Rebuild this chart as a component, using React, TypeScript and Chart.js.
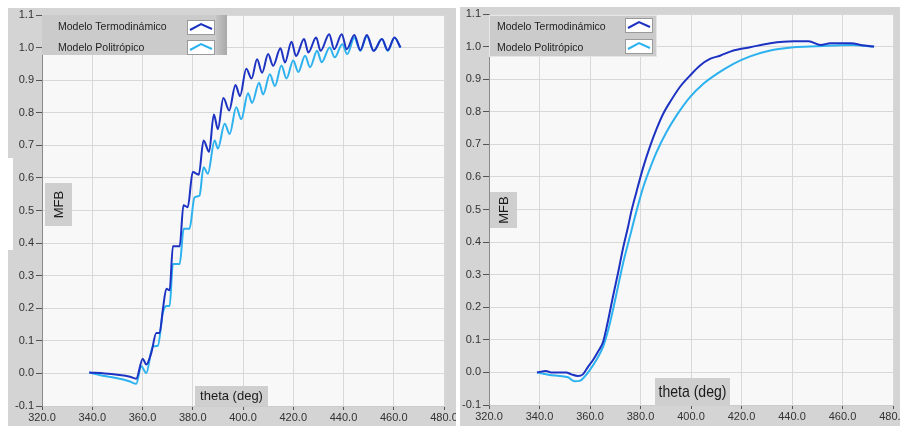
import React, { useEffect, useRef } from "react";
import { Chart, registerables } from "chart.js";

Chart.register(...registerables);

// ---------- data ----------
const X_TICKS = [320, 340, 360, 380, 400, 420, 440, 460, 480];
const Y_TICKS = [-0.1, 0.0, 0.1, 0.2, 0.3, 0.4, 0.5, 0.6, 0.7, 0.8, 0.9, 1.0, 1.1];
const SERIES_NAMES = ["Modelo Termodinámico", "Modelo Politrópico"];
const X_TITLE = "theta (deg)";
const Y_TITLE = "MFB";

// Left chart (oscillating)
const leftThetaTermo = [338.8, 345, 350, 355, 357.5, 360.1, 361.5, 363.5, 365.5, 366.8, 368.1, 369.5, 370.8, 372.1, 374.8, 376.3, 378, 380, 382.4, 384.3, 386.5, 388.4, 390, 392.2, 394.5, 397, 398.8, 401.3, 403.4, 405.6, 407.6, 410, 412, 414.9, 416.7, 419.3, 421.1, 424.3, 426, 429.1, 430.9, 434.3, 436.3, 439.3, 441.3, 444.3, 446.7, 449.3, 452, 455.3, 457.6, 460.3, 462.7];
const leftMfbTermo = [0.003, 0.0, -0.004, -0.01, -0.016, 0.045, 0.027, 0.063, 0.124, 0.124, 0.196, 0.26, 0.255, 0.39, 0.39, 0.516, 0.51, 0.618, 0.61, 0.715, 0.68, 0.795, 0.75, 0.845, 0.807, 0.885, 0.851, 0.935, 0.905, 0.964, 0.923, 0.98, 0.944, 0.998, 0.954, 1.018, 0.974, 1.026, 0.985, 1.031, 0.99, 1.041, 0.995, 1.041, 0.995, 1.039, 0.992, 1.039, 0.99, 1.026, 0.992, 1.031, 1.0];
const leftThetaPoli = [338.8, 345, 350, 355, 357.5, 359.5, 361.5, 364.1, 366.1, 368.1, 369.5, 370.8, 372.1, 374.8, 376.4, 378.7, 380.7, 382.7, 384.3, 386, 388.7, 390, 392.7, 394.7, 397.3, 399.3, 402, 403.6, 406.4, 408, 410.7, 412.7, 415.3, 417.3, 420, 422, 424.7, 426.7, 429.5, 431.3, 434.5, 436.5, 439.5, 441.5, 444.3, 446.7, 449.3, 452, 455.3, 457.6, 460.3, 462.7];
const leftMfbPoli = [0.003, -0.008, -0.015, -0.025, -0.032, 0.022, 0.001, 0.083, 0.085, 0.186, 0.207, 0.207, 0.336, 0.336, 0.444, 0.444, 0.54, 0.546, 0.633, 0.613, 0.715, 0.69, 0.766, 0.735, 0.817, 0.78, 0.86, 0.83, 0.892, 0.856, 0.918, 0.882, 0.945, 0.905, 0.96, 0.925, 0.975, 0.94, 0.99, 0.955, 1.0, 0.97, 1.01, 0.98, 1.03, 0.99, 1.035, 0.99, 1.026, 0.99, 1.03, 1.0];

// Right chart (smooth)
const rightThetaTermo = [339, 342.6, 344.6, 350.6, 352.6, 355.2, 357.2, 359.2, 361.2, 363.2, 365.2, 367.2, 369.1, 371.1, 373.1, 375.1, 376.4, 378.4, 381.1, 383.7, 386.4, 389, 391.7, 395.6, 399.6, 403.6, 407.5, 411.5, 416.8, 423.4, 431.4, 440.7, 446.6, 451.3, 455.2, 463.2, 468.5, 472.5];
const rightMfbTermo = [0.0, 0.004, 0.0, 0.0, -0.006, -0.011, -0.006, 0.017, 0.038, 0.064, 0.094, 0.161, 0.233, 0.305, 0.382, 0.448, 0.495, 0.554, 0.63, 0.692, 0.748, 0.794, 0.83, 0.876, 0.911, 0.942, 0.962, 0.972, 0.988, 0.998, 1.01, 1.016, 1.016, 1.005, 1.01, 1.01, 1.003, 1.0];
const rightThetaPoli = [339, 344, 348, 351.3, 353.9, 355.9, 357.9, 359.9, 362.5, 365.2, 367.2, 369.1, 371.1, 373.1, 375.8, 378.4, 381.1, 383.7, 386.4, 390.3, 394.3, 399.6, 404.9, 410.2, 416.8, 423.4, 431.4, 440.7, 450, 456.6, 463.2, 472.5];
const rightMfbPoli = [0.0, -0.008, -0.011, -0.015, -0.027, -0.026, -0.013, 0.007, 0.038, 0.079, 0.13, 0.192, 0.264, 0.335, 0.417, 0.495, 0.569, 0.625, 0.677, 0.738, 0.789, 0.845, 0.886, 0.916, 0.947, 0.97, 0.988, 0.998, 1.001, 1.003, 1.005, 1.0];

// ---------- styles ----------
const COLOR_TERMO = "#1c32c2";
const COLOR_POLI = "#2db2ef";
const PANEL = "#d4d4d4";
const PLOT_BG = "#f8f8f8";
const GRID = "#d8d8d8";
const FONT = "'Liberation Sans', Arial, sans-serif";

type Box = [number, number, number, number];
type Decor = {
  area: { left: number; top: number; right: number; bottom: number };
  legend: { box: Box; textX: number; rowY: number[]; glyphX: number; glyphW: number; glyphBoxes: [number, number][]; shade: boolean };
  mfb: Box;
  theta: Box;
  thetaFont: number;
  thetaMaxW: number;
  strip?: Box;
};

function zip(xs: number[], ys: number[]) {
  return xs.map((x, i) => ({ x, y: ys[i] }));
}

function makeDecor(d: Decor) {
  return {
    id: "decor",
    beforeDraw(chart: any) {
      const { ctx, width, height, chartArea: a } = chart;
      ctx.save();
      ctx.fillStyle = PANEL;
      ctx.fillRect(0, 0, width, height);
      if (d.strip) {
        ctx.fillStyle = "#ffffff";
        ctx.fillRect(...d.strip);
      }
      ctx.fillStyle = PLOT_BG;
      ctx.fillRect(a.left, a.top, a.right - a.left, a.bottom - a.top);
      ctx.restore();
    },
    afterDraw(chart: any) {
      const ctx = chart.ctx as CanvasRenderingContext2D;
      ctx.save();
      // legend
      const L = d.legend;
      ctx.fillStyle = "#cbcbcb";
      ctx.fillRect(...L.box);
      if (L.shade) {
        const [bx, by, bw, bh] = L.box;
        const g = ctx.createLinearGradient(bx + bw - 11, 0, bx + bw, 0);
        g.addColorStop(0, "#c4c4c4");
        g.addColorStop(1, "#a9a9a9");
        ctx.fillStyle = g;
        ctx.fillRect(bx + bw - 11, by, 11, bh);
      } else {
        ctx.strokeStyle = "#e6e6e6";
        ctx.lineWidth = 1;
        ctx.strokeRect(L.box[0] + 0.5, L.box[1] + 0.5, L.box[2] - 1, L.box[3] - 1);
      }
      chart.data.datasets.forEach((ds: any, i: number) => {
        ctx.fillStyle = "#1e1e1e";
        ctx.font = `10.5px ${FONT}`;
        ctx.textAlign = "left";
        ctx.textBaseline = "middle";
        ctx.fillText(ds.label, L.textX, L.rowY[i]);
        const [gy, gh] = L.glyphBoxes[i];
        ctx.fillStyle = "#ffffff";
        ctx.fillRect(L.glyphX, gy, L.glyphW, gh);
        ctx.strokeStyle = "#9a9a9a";
        ctx.lineWidth = 1;
        ctx.strokeRect(L.glyphX + 0.5, gy + 0.5, L.glyphW - 1, gh - 1);
        ctx.strokeStyle = ds.borderColor;
        ctx.lineWidth = 2;
        ctx.beginPath();
        ctx.moveTo(L.glyphX + 3, gy + gh - 5);
        ctx.lineTo(L.glyphX + L.glyphW / 2, gy + 4);
        ctx.lineTo(L.glyphX + L.glyphW - 3, gy + gh - 6);
        ctx.stroke();
      });
      // y title box
      ctx.fillStyle = "#cfcfcf";
      ctx.fillRect(...d.mfb);
      ctx.save();
      ctx.translate(d.mfb[0] + d.mfb[2] / 2, d.mfb[1] + d.mfb[3] / 2);
      ctx.rotate(-Math.PI / 2);
      ctx.fillStyle = "#1a1a1a";
      ctx.font = `13px ${FONT}`;
      ctx.textAlign = "center";
      ctx.textBaseline = "middle";
      ctx.fillText(Y_TITLE, 0, 1);
      ctx.restore();
      // x title box
      ctx.fillStyle = "#cfcfcf";
      ctx.fillRect(...d.theta);
      ctx.fillStyle = "#1a1a1a";
      ctx.font = `${d.thetaFont}px ${FONT}`;
      ctx.textAlign = "center";
      ctx.textBaseline = "middle";
      ctx.fillText(X_TITLE, d.theta[0] + d.theta[2] / 2, d.theta[1] + d.theta[3] / 2, d.thetaMaxW);
      ctx.restore();
    },
  };
}

function buildConfig(
  W: number,
  H: number,
  d: Decor,
  termo: { x: number; y: number }[],
  poli: { x: number; y: number }[]
): any {
  const a = d.area;
  const tickFont = { family: FONT, size: 11 };
  return {
    type: "line",
    data: {
      datasets: [
        { label: SERIES_NAMES[0], data: termo, borderColor: COLOR_TERMO, borderWidth: 2, pointRadius: 0, cubicInterpolationMode: "monotone" },
        { label: SERIES_NAMES[1], data: poli, borderColor: COLOR_POLI, borderWidth: 2, pointRadius: 0, cubicInterpolationMode: "monotone" },
      ],
    },
    options: {
      animation: false,
      responsive: false,
      events: [],
      layout: { padding: { left: 0, top: a.top, right: W - a.right, bottom: 0 } },
      plugins: { legend: { display: false }, tooltip: { enabled: false } },
      scales: {
        x: {
          type: "linear",
          min: X_TICKS[0],
          max: X_TICKS[X_TICKS.length - 1],
          afterBuildTicks: (s: any) => {
            s.ticks = X_TICKS.map((v) => ({ value: v }));
          },
          afterFit: (s: any) => {
            s.height = H - a.bottom;
            s.paddingLeft = 0;
            s.paddingRight = 0;
          },
          ticks: { autoSkip: false, maxRotation: 0, padding: 1, color: "#333", font: tickFont, callback: (v: any) => Number(v).toFixed(1) },
          grid: { color: GRID, tickColor: "#555", tickLength: 4 },
          border: { color: "#cccccc" },
        },
        y: {
          type: "linear",
          min: Y_TICKS[0],
          max: Y_TICKS[Y_TICKS.length - 1],
          afterBuildTicks: (s: any) => {
            s.ticks = Y_TICKS.map((v) => ({ value: v }));
          },
          afterFit: (s: any) => {
            s.width = a.left;
            s.paddingTop = 0;
            s.paddingBottom = 0;
          },
          ticks: { padding: 2, color: "#333", font: tickFont, callback: (v: any) => Number(v).toFixed(1) },
          grid: { color: GRID, tickColor: "#555", tickLength: 6 },
          border: { color: "#8a8a8a" },
        },
      },
    },
    plugins: [makeDecor(d)],
  };
}

const LEFT_DECOR: Decor = {
  area: { left: 34, top: 7, right: 436, bottom: 398 },
  legend: { box: [34, 7, 185, 40], textX: 50, rowY: [19, 40], glyphX: 179, glyphW: 28, glyphBoxes: [[12, 15], [32, 15]], shade: true },
  mfb: [37, 175, 27, 43],
  theta: [187, 378, 73, 20],
  thetaFont: 13,
  thetaMaxW: 66,
  strip: [0, 150, 5, 92],
};

const RIGHT_DECOR: Decor = {
  area: { left: 29, top: 7, right: 433, bottom: 398 },
  legend: { box: [29, 8, 168, 42], textX: 37, rowY: [20, 41], glyphX: 165, glyphW: 28, glyphBoxes: [[11, 15], [32, 15]], shade: false },
  mfb: [30, 185, 27, 36],
  theta: [195, 371, 75, 28],
  thetaFont: 17,
  thetaMaxW: 68,
};

function Panel(props: { W: number; H: number; left: number; top: number; decor: Decor; termo: any[]; poli: any[] }) {
  const ref = useRef<HTMLCanvasElement | null>(null);
  useEffect(() => {
    if (!ref.current) return;
    const chart = new Chart(ref.current, buildConfig(props.W, props.H, props.decor, props.termo, props.poli));
    return () => chart.destroy();
  }, []);
  return (
    <canvas
      ref={ref}
      width={props.W}
      height={props.H}
      style={{ position: "absolute", left: props.left, top: props.top, width: props.W, height: props.H }}
    />
  );
}

export default function App() {
  return (
    <div style={{ position: "fixed", left: 0, top: 0, width: 900, height: 426, background: "#ffffff", overflow: "hidden" }}>
      <Panel W={448} H={418} left={8} top={8} decor={LEFT_DECOR} termo={zip(leftThetaTermo, leftMfbTermo)} poli={zip(leftThetaPoli, leftMfbPoli)} />
      <Panel W={440} H={419} left={460} top={7} decor={RIGHT_DECOR} termo={zip(rightThetaTermo, rightMfbTermo)} poli={zip(rightThetaPoli, rightMfbPoli)} />
    </div>
  );
}
